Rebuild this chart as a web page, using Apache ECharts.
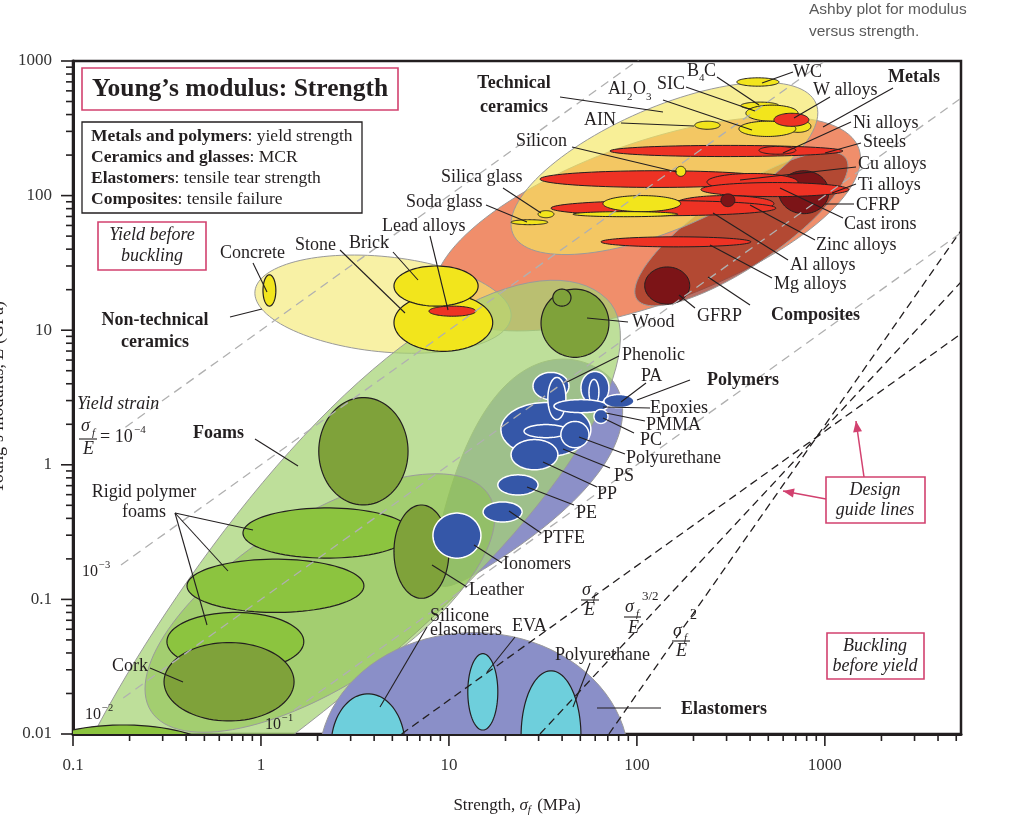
<!DOCTYPE html>
<html>
<head>
<meta charset="utf-8">
<title>Young's modulus: Strength</title>
<script src="https://cdn.jsdelivr.net/npm/echarts@6.0.0/dist/echarts.min.js"></script>
<style>
html,body{margin:0;padding:0;background:#ffffff;}
#chart{width:1024px;height:829px;}
</style>
</head>
<body>
<div id="chart"></div>
<script>
// ---------------- DATA (strength in MPa, modulus in GPa) ----------------
const xTickLabels = ['0.1', '1', '10', '100', '1000'];
const yTickLabels = ['0.01', '0.1', '1', '10', '100', '1000'];
const strengthRange = [0.1, 5300];
const modulusRange = [0.01, 1000];

// Family envelopes: [name, strength at low end, modulus at low end, strength at high end, modulus at high end]
const familyEnvelopes = [
  ['Polymers', 8.95, 0.128, 68.4, 4.73],
  ['Metals', 8.53, 17.0, 1516, 224],
  ['Composites', 100, 17.0, 1293, 189],
  ['Technical ceramics', 21.9, 52.0, 896, 486],
  ['Non-technical ceramics', 0.929, 19.5, 21.4, 12.5],
  ['Foams', 0.0863, 0.00113, 69.3, 17.0],
  ['Rigid polymer foams', 0.26, 0.0148, 16.3, 0.597]
];
// Range bubbles: [name, strength min, strength max, modulus min, modulus max]
const elastomerEnvelope = [
  ['Elastomers', 2.03, 90.6, 0.000697, 0.0567]
];
const composites = [
  ['GFRP', 110, 191, 15.6, 29.5],
  ['CFRP', 569, 1050, 73.4, 153],
  ['Composite (small)', 280, 332, 82.8, 103]
];
const metals = [
  ['Steels', 71.9, 1247, 195, 236],
  ['Ni alloys', 446, 701, 203, 232],
  ['Cu alloys', 30.5, 536, 115, 153],
  ['Cast irons', 236, 719, 109, 146],
  ['Ti alloys', 219, 1342, 98.3, 125],
  ['Zinc alloys', 161, 536, 76.0, 100],
  ['Al alloys', 34.9, 549, 70.9, 91.8],
  ['Mg alloys', 64.4, 404, 41.6, 49.4],
  ['W alloys', 536, 822, 327, 409],
  ['Lead alloys', 7.83, 13.9, 12.7, 15.1]
];
const ceramics = [
  ['WC', 340, 570, 650, 750],
  ['B4C', 357, 570, 438, 495],
  ['SIC', 380, 720, 357, 470],
  ['Ceramic (behind W alloys)', 620, 843, 295, 363],
  ['Al2O3', 349, 701, 275, 357],
  ['AIN', 203, 277, 311, 357],
  ['Silicon', 161, 182, 139, 165],
  ['Glass (large)', 66.0, 171, 76.0, 100],
  ['Glass (flat)', 45.7, 165, 69.7, 76.0],
  ['Silica glass', 29.8, 36.2, 68.5, 77.3],
  ['Soda glass', 21.4, 33.6, 60.8, 66.2]
];
const nonTechnical = [
  ['Concrete', 1.025, 1.20, 15.1, 25.8],
  ['Stone', 5.10, 17.1, 6.97, 18.6],
  ['Brick', 5.10, 14.3, 15.1, 30.0]
];
const foams = [
  ['Rigid polymer foam (high)', 0.802, 6.28, 0.2025, 0.478],
  ['Rigid polymer foam (mid)', 0.404, 3.53, 0.0800, 0.199],
  ['Rigid polymer foam (low)', 0.316, 1.69, 0.0295, 0.0800],
  ['Flexible foam', 0.0529, 0.651, 0.00316, 0.01167]
];
const natural = [
  ['Foam region natural', 2.03, 6.06, 0.503, 3.16],
  ['Cork', 0.305, 1.50, 0.0125, 0.0478],
  ['Leather', 5.10, 10.0, 0.1019, 0.503],
  ['Wood', 30.9, 71.0, 6.29, 20.2],
  ['Wood (small)', 35.7, 44.6, 15.1, 20.2]
];
const polymers = [
  ['Polymer (large)', 18.9, 56.9, 1.15, 2.90],
  ['Phenolic', 28.0, 43.5, 3.05, 4.86],
  ['Polymer (tall)', 33.6, 41.9, 2.17, 4.46],
  ['Polymer (right)', 50.4, 71.0, 2.80, 4.94],
  ['Polymer (narrow)', 55.6, 62.8, 2.80, 4.31],
  ['Epoxies', 36.2, 70.1, 2.44, 3.05],
  ['PA', 66.8, 96.4, 2.66, 3.33],
  ['PMMA', 59.1, 70.1, 2.03, 2.58],
  ['PC', 25.1, 43.0, 1.59, 1.99],
  ['Polyurethane', 39.4, 55.6, 1.34, 2.10],
  ['PS', 21.4, 38.0, 0.918, 1.54],
  ['PP', 18.2, 29.8, 0.597, 0.842],
  ['PE', 15.2, 24.5, 0.376, 0.530],
  ['Ionomers', 8.22, 14.8, 0.2025, 0.438]
];
const elastomers = [
  ['Silicone elasomers', 2.36, 5.84, 0.00333, 0.0199],
  ['EVA', 12.6, 18.2, 0.0107, 0.0395],
  ['Polyurethane', 24.2, 50.4, 0.00316, 0.0295]
];
// yield strain sigma_f/E (MPa/GPa) and strength where each guide starts
const yieldStrainRatios = [0.1, 1, 10, 100];
const yieldStrainStart = [0.19, 0.18, 0.185, 1.5];
// design guide lines sigma_f/E, sigma_f^1.5/E, sigma_f^2/E: end points [strength, modulus]
const designLineEnds = [
  [[5.6, 0.01], [5300, 9.4]],
  [[30.5, 0.01], [5300, 22.8]],
  [[71, 0.01], [5300, 55]]
];

// ---------------- STYLE ----------------
const SERIF = '"Liberation Serif", "Times New Roman", serif';
const INK = '#231f20';
const CRIMSON = '#d2416f';
const FS = 18;
// w: half-width / half-length on the upper-left side, wr: on the lower-right side, k: taper toward the high end
const envelopeLook = {
  'Polymers': { w: 0.50, wr: 0.38, k: 0.45, fill: '#8c90c8' },
  'Metals': { w: 0.36, wr: 0.36, k: 0, fill: '#f08e6b' },
  'Composites': { w: 0.30, wr: 0.30, k: 0, fill: 'rgba(150,40,25,0.68)' },
  'Technical ceramics': { w: 0.37, wr: 0.37, k: 0, fill: 'rgba(244,230,95,0.65)' },
  'Non-technical ceramics': { w: 0.37, wr: 0.37, k: 0, fill: 'rgba(243,233,110,0.62)' },
  'Foams': { w: 0.30, wr: 0.24, k: 0.3, fill: 'rgba(165,210,115,0.72)' },
  'Rigid polymer foams': { w: 0.42, wr: 0.42, k: 0, fill: 'rgba(135,190,70,0.5)' }
};
const onTopMetals = ['W alloys', 'Lead alloys'];
const onTopComposites = ['Composite (small)'];

function envelopeRender(params, api) {
  const look = envelopeLook[familyEnvelopes[params.dataIndex][0]];
  const p1 = api.coord([api.value(0), api.value(1)]);
  const p2 = api.coord([api.value(2), api.value(3)]);
  const cx = (p1[0] + p2[0]) / 2, cy = (p1[1] + p2[1]) / 2;
  const dx = (p2[0] - p1[0]) / 2, dy = (p2[1] - p1[1]) / 2;
  const a = Math.hypot(dx, dy), ux = dx / a, uy = dy / a, vx = -uy, vy = ux;
  const pts = [];
  for (let i = 0; i < 120; i++) {
    const t = i / 120 * Math.PI * 2;
    const s = Math.sin(t);
    const b = a * (s > 0 ? look.wr : look.w);
    const u = a * Math.cos(t), v = b * s * (1 + look.k * Math.cos(t));
    pts.push([cx + u * ux + v * vx, cy + u * uy + v * vy]);
  }
  return { type: 'polygon', shape: { points: pts }, style: { fill: look.fill, stroke: '#9a9a9a', lineWidth: 1 } };
}

function bubbleRender(fill, stroke, lw) {
  return function (params, api) {
    const x0 = Math.log10(api.value(0)), x1 = Math.log10(api.value(1));
    const y0 = Math.log10(api.value(2)), y1 = Math.log10(api.value(3));
    const cx = (x0 + x1) / 2, cy = (y0 + y1) / 2, rx = (x1 - x0) / 2, ry = (y1 - y0) / 2;
    const pts = [];
    for (let i = 0; i < 90; i++) {
      const t = i / 90 * Math.PI * 2;
      pts.push(api.coord([Math.pow(10, cx + rx * Math.cos(t)), Math.pow(10, cy + ry * Math.sin(t))]));
    }
    return { type: 'polygon', shape: { points: pts }, style: { fill: fill, stroke: stroke, lineWidth: lw } };
  };
}

function bubbleSeries(rows, fill, stroke, lw, z) {
  return {
    type: 'custom', z: z, clip: true, silent: true,
    encode: { x: [0, 1], y: [2, 3] },
    data: rows.map(r => [r[1], r[2], r[3], r[4]]),
    renderItem: bubbleRender(fill, stroke, lw)
  };
}

// axis tick values (major = powers of ten, minor = 2..9 times)
function tickValues(lo, hi) {
  const out = [];
  for (let e = Math.round(Math.log10(lo)); Math.pow(10, e) <= hi; e++) {
    for (let m = 1; m <= 9; m++) {
      const v = m * Math.pow(10, e);
      if (v >= lo * 0.999 && v <= hi) out.push([v, m === 1 ? 1 : 0]);
    }
  }
  return out;
}

function decadeLabel(v, labels, lo) {
  const e = Math.log10(v), r = Math.round(e);
  if (Math.abs(e - r) > 1e-6) return '';
  return labels[r - Math.round(Math.log10(lo))] || '';
}

const inList = (list) => (r) => list.indexOf(r[0]) >= 0;
const notInList = (list) => (r) => list.indexOf(r[0]) < 0;

const series = [];
series.push({
  type: 'custom', z: 1, clip: true, silent: true,
  encode: { x: [0, 2], y: [1, 3] },
  data: familyEnvelopes.map(r => [r[1], r[2], r[3], r[4]]),
  renderItem: envelopeRender
});
series.push(bubbleSeries(elastomerEnvelope, '#8a8fc8', '#9a9a9a', 1, 2));
series.push(bubbleSeries(composites.filter(notInList(onTopComposites)), '#7c1417', INK, 1, 3));
series.push(bubbleSeries(metals.filter(notInList(onTopMetals)), '#ee3224', INK, 1, 4));
series.push(bubbleSeries(composites.filter(inList(onTopComposites)), '#7c1417', INK, 1, 4.5));
series.push(bubbleSeries(ceramics, '#f2e51c', INK, 1, 5));
series.push(bubbleSeries(nonTechnical, '#f2e51c', INK, 1.2, 6));
series.push(bubbleSeries(metals.filter(inList(onTopMetals)), '#ee3224', INK, 1, 7));
series.push(bubbleSeries(foams, '#8cc43f', INK, 1.2, 8));
series.push(bubbleSeries(natural, '#7fa23a', INK, 1.2, 9));
series.push(bubbleSeries(polymers, '#3557a8', '#ffffff', 1.5, 10));
series.push(bubbleSeries(elastomers, '#6ecfdc', INK, 1.2, 11));

yieldStrainRatios.forEach((k, i) => {
  const s0 = yieldStrainStart[i], s1 = strengthRange[1];
  series.push({
    type: 'line', z: 12, clip: true, silent: true, showSymbol: false, symbol: 'none',
    data: [[s0, s0 / k], [s1, s1 / k]],
    lineStyle: { color: '#b0b0b0', width: 1.3, type: [9, 6] }
  });
});
designLineEnds.forEach(seg => {
  series.push({
    type: 'line', z: 13, clip: true, silent: true, showSymbol: false, symbol: 'none',
    data: seg,
    lineStyle: { color: INK, width: 1.3, type: [8, 5] }
  });
});
// axis ticks drawn outward through the axis scales
series.push({
  type: 'custom', z: 14, clip: false, silent: true,
  data: tickValues(strengthRange[0], strengthRange[1]).map(t => [t[0], modulusRange[0], t[1]]),
  renderItem: function (params, api) {
    const p = api.coord([api.value(0), api.value(1)]);
    const len = api.value(2) ? 11 : 6;
    return { type: 'line', shape: { x1: p[0], y1: p[1] + 1, x2: p[0], y2: p[1] + 1 + len }, style: { stroke: INK, lineWidth: 1.6 } };
  }
});
series.push({
  type: 'custom', z: 14, clip: false, silent: true,
  data: tickValues(modulusRange[0], modulusRange[1]).map(t => [strengthRange[0], t[0], t[1]]),
  renderItem: function (params, api) {
    const p = api.coord([api.value(0), api.value(1)]);
    const len = api.value(2) ? 11 : 6;
    return { type: 'line', shape: { x1: p[0] - 1, y1: p[1], x2: p[0] - 1 - len, y2: p[1] }, style: { stroke: INK, lineWidth: 1.6 } };
  }
});

// ---------------- ANNOTATIONS ----------------
const G = [];
function T(text, x, y, o) {
  const st = Object.assign({
    text: text, fill: INK, fontFamily: SERIF, fontSize: FS,
    textAlign: 'left', textVerticalAlign: 'middle', align: 'left', verticalAlign: 'middle'
  }, o || {});
  if (st.textAlign) st.align = st.textAlign;
  G.push({ type: 'text', x: x, y: y, z: 100, silent: true, style: st });
}
function L(x1, y1, x2, y2, color, w) {
  G.push({ type: 'line', z: 99, silent: true, shape: { x1, y1, x2, y2 }, style: { stroke: color || INK, lineWidth: w || 1.1 } });
}
function R(x, y, w, h, color, lw) {
  G.push({ type: 'rect', z: 98, silent: true, shape: { x, y, width: w, height: h }, style: { fill: '#ffffff', stroke: color, lineWidth: lw } });
}
function arrow(x1, y1, x2, y2) {
  L(x1, y1, x2, y2, CRIMSON, 1.5);
  const a = Math.atan2(y2 - y1, x2 - x1), len = 11, hw = 4.5;
  const bx = x2 - len * Math.cos(a), by = y2 - len * Math.sin(a);
  G.push({ type: 'polygon', z: 100, silent: true, shape: { points: [[x2, y2], [bx + hw * Math.sin(a), by - hw * Math.cos(a)], [bx - hw * Math.sin(a), by + hw * Math.cos(a)]] }, style: { fill: CRIMSON } });
}

// title + legend boxes
R(82, 68, 316, 42, CRIMSON, 1.6);
T("Young\u2019s modulus: Strength", 240, 89, { fontSize: 25.5, fontWeight: 'bold', textAlign: 'center' });
R(82, 122, 280, 91, INK, 1.3);
const bRich = { b: { fontWeight: 'bold', fontFamily: SERIF, fontSize: 17.5, fill: INK, color: INK } };
T('{b|Metals and polymers}: yield strength', 91, 136, { fontSize: 17.5, rich: bRich });
T('{b|Ceramics and glasses}: MCR', 91, 157, { fontSize: 17.5, rich: bRich });
T('{b|Elastomers}: tensile tear strength', 91, 178, { fontSize: 17.5, rich: bRich });
T('{b|Composites}: tensile failure', 91, 199, { fontSize: 17.5, rich: bRich });
R(98, 222, 108, 48, CRIMSON, 1.6);
T('Yield before', 152, 235, { fontStyle: 'italic', textAlign: 'center' });
T('buckling', 152, 256, { fontStyle: 'italic', textAlign: 'center' });
R(826, 477, 99, 46, CRIMSON, 1.6);
T('Design', 875, 490, { fontStyle: 'italic', textAlign: 'center' });
T('guide lines', 875, 510, { fontStyle: 'italic', textAlign: 'center' });
arrow(864, 477, 856, 421);
arrow(826, 499, 783, 491);
R(827, 633, 97, 46, CRIMSON, 1.6);
T('Buckling', 875, 646, { fontStyle: 'italic', textAlign: 'center' });
T('before yield', 875, 666, { fontStyle: 'italic', textAlign: 'center' });

// caption top right
T('Ashby plot for modulus', 809, 10, { fontFamily: '"Liberation Sans Narrow", "Liberation Sans", sans-serif', fontSize: 15.5, fill: '#5a5a5a' });
T('versus strength.', 809, 32, { fontFamily: '"Liberation Sans Narrow", "Liberation Sans", sans-serif', fontSize: 15.5, fill: '#5a5a5a' });

// plain labels
[
  ['Concrete', 220, 253], ['Stone', 295, 245], ['Brick', 349, 243], ['Lead alloys', 382, 226],
  ['Soda glass', 406, 202], ['Silica glass', 441, 177], ['Silicon', 516, 141], ['AIN', 584, 120],
  ['SIC', 657, 84], ['WC', 793, 72], ['W alloys', 813, 90], ['Ni alloys', 853, 123],
  ['Steels', 863, 142], ['Cu alloys', 858, 164], ['Ti alloys', 858, 185], ['CFRP', 856, 205],
  ['Cast irons', 844, 224], ['Zinc alloys', 816, 245], ['Al alloys', 790, 265], ['Mg alloys', 774, 284],
  ['GFRP', 697, 316], ['Wood', 632, 322], ['Phenolic', 622, 355], ['PA', 641, 376],
  ['Epoxies', 650, 408], ['PMMA', 646, 425], ['PC', 640, 440], ['Polyurethane', 626, 458],
  ['PS', 614, 476], ['PP', 597, 494], ['PE', 576, 513], ['PTFE', 543, 538],
  ['Ionomers', 503, 564], ['Leather', 469, 590], ['Silicone', 430, 616], ['elasomers', 430, 630],
  ['EVA', 512, 626], ['Polyurethane', 555, 655], ['Cork', 112, 666]
].forEach(r => T(r[0], r[1], r[2]));
// bold family labels
[
  ['Metals', 888, 77], ['Composites', 771, 315], ['Polymers', 707, 380], ['Elastomers', 681, 709], ['Foams', 193, 433]
].forEach(r => T(r[0], r[1], r[2], { fontWeight: 'bold' }));
T('Technical', 514, 83, { fontWeight: 'bold', textAlign: 'center' });
T('ceramics', 514, 107, { fontWeight: 'bold', textAlign: 'center' });
T('Non-technical', 155, 320, { fontWeight: 'bold', textAlign: 'center' });
T('ceramics', 155, 342, { fontWeight: 'bold', textAlign: 'center' });
T('Rigid polymer', 144, 492, { textAlign: 'center' });
T('foams', 144, 512, { textAlign: 'center' });
// chemical formulae with subscripts
T('Al', 608, 89); T('2', 627, 97, { fontSize: 11 }); T('O', 633, 89); T('3', 646, 97, { fontSize: 11 });
T('B', 687, 71); T('4', 699, 78, { fontSize: 11 }); T('C', 704, 71);
// yield strain label
T('Yield strain', 77, 404, { fontStyle: 'italic' });
T('\u03c3', 81, 426, { fontStyle: 'italic' }); T('f', 92, 433, { fontStyle: 'italic', fontSize: 11 });
L(79, 439, 97, 439, INK, 1.1);
T('E', 83, 449, { fontStyle: 'italic' });
T('= 10', 100, 437); T('\u2212' + '4', 134, 430, { fontSize: 11 });
// yield strain values along guides
T('10', 82, 572, { fontSize: 16 }); T('\u2212' + '3', 99, 565, { fontSize: 10.5 });
T('10', 85, 715, { fontSize: 16 }); T('\u2212' + '2', 102, 708, { fontSize: 10.5 });
T('10', 265, 725, { fontSize: 16 }); T('\u2212' + '1', 282, 718, { fontSize: 10.5 });
// design guide formulas
T('\u03c3', 582, 590, { fontStyle: 'italic' }); T('f', 593, 597, { fontStyle: 'italic', fontSize: 11 });
L(581, 600, 599, 600, INK, 1.1); T('E', 584, 610, { fontStyle: 'italic' });
T('\u03c3', 625, 607, { fontStyle: 'italic' }); T('f', 636, 614, { fontStyle: 'italic', fontSize: 11 });
T('3/2', 642, 597, { fontSize: 13 });
L(624, 617, 641, 617, INK, 1.1); T('E', 628, 628, { fontStyle: 'italic' });
T('\u03c3', 673, 631, { fontStyle: 'italic' }); T('f', 684, 638, { fontStyle: 'italic', fontSize: 11 });
T('2', 690, 615, { fontSize: 14 });
L(672, 641, 690, 641, INK, 1.1); T('E', 676, 651, { fontStyle: 'italic' });

// leader lines
[
  [560, 97, 663, 112], [663, 100, 752, 130], [686, 87, 755, 111], [717, 77, 759, 105], [793, 72, 762, 83],
  [830, 97, 794, 118], [893, 88, 823, 127], [851, 122, 783, 153], [861, 143, 825, 153], [856, 167, 740, 180],
  [856, 184, 832, 193], [854, 204, 825, 204], [843, 218, 780, 188], [815, 240, 750, 205], [788, 260, 713, 213],
  [772, 278, 710, 245], [695, 308, 679, 295], [750, 305, 708, 277], [621, 123, 694, 126], [572, 147, 677, 172],
  [503, 188, 541, 213], [486, 205, 527, 222], [430, 236, 448, 310], [393, 252, 418, 280], [340, 250, 405, 313],
  [253, 263, 267, 292], [230, 317, 262, 309], [628, 322, 587, 318], [619, 356, 567, 382], [646, 383, 621, 402],
  [690, 380, 637, 400], [650, 408, 603, 407], [645, 421, 606, 413], [634, 433, 603, 418], [625, 454, 579, 437],
  [610, 468, 563, 449], [597, 487, 543, 462], [574, 505, 527, 487], [541, 533, 509, 511], [502, 563, 474, 545],
  [467, 587, 432, 565], [427, 627, 380, 707], [515, 637, 487, 672], [590, 663, 573, 707], [661, 708, 597, 708],
  [255, 439, 298, 466], [175, 513, 253, 530], [175, 513, 228, 571], [175, 513, 207, 625], [150, 668, 183, 682]
].forEach(s => L(s[0], s[1], s[2], s[3]));

// ---------------- CHART ----------------
const chart = echarts.init(document.getElementById('chart'), null, { renderer: 'canvas' });
chart.setOption({
  animation: false,
  backgroundColor: '#ffffff',
  grid: { left: 73, top: 61, width: 888, height: 673, show: true, borderColor: INK, borderWidth: 2.5, backgroundColor: 'transparent', containLabel: false, outerBoundsMode: 'none' },
  xAxis: {
    type: 'log', logBase: 10, min: strengthRange[0], max: strengthRange[1],
    axisLine: { show: true, onZero: false, lineStyle: { color: INK, width: 3 } },
    axisTick: { show: false }, splitLine: { show: false }, minorTick: { show: false },
    axisLabel: {
      margin: 23, color: '#333', fontFamily: SERIF, fontSize: 17,
      showMinLabel: true, showMaxLabel: true, hideOverlap: false,
      formatter: v => decadeLabel(v, xTickLabels, strengthRange[0])
    },
    name: '{a|Strength, }{s|\u03c3}{f|f}{a| (MPa)}',
    nameLocation: 'middle', nameGap: 62,
    nameTextStyle: {
      color: INK, fontFamily: SERIF, fontSize: 17,
      rich: {
        a: { fontFamily: SERIF, fontSize: 17, color: INK },
        s: { fontFamily: SERIF, fontSize: 17, fontStyle: 'italic', color: INK },
        f: { fontFamily: SERIF, fontSize: 11, fontStyle: 'italic', color: INK, verticalAlign: 'bottom', padding: [9, 2, 0, 0] }
      }
    }
  },
  yAxis: {
    type: 'log', logBase: 10, min: modulusRange[0], max: modulusRange[1],
    axisLine: { show: true, onZero: false, lineStyle: { color: INK, width: 3 } },
    axisTick: { show: false }, splitLine: { show: false }, minorTick: { show: false },
    axisLabel: {
      margin: 21, color: '#333', fontFamily: SERIF, fontSize: 17,
      showMinLabel: true, showMaxLabel: true, hideOverlap: false,
      formatter: v => decadeLabel(v, yTickLabels, modulusRange[0])
    },
    name: '{a|Young\u2019s modulus, }{e|E}{a| (GPa)}',
    nameLocation: 'middle', nameGap: 62, nameRotate: 90,
    nameTextStyle: {
      color: INK, fontFamily: SERIF, fontSize: 18,
      rich: {
        a: { fontFamily: SERIF, fontSize: 18, color: INK },
        e: { fontFamily: SERIF, fontSize: 18, fontStyle: 'italic', color: INK }
      }
    }
  },
  graphic: { elements: G },
  series: series
});
</script>
</body>
</html>
